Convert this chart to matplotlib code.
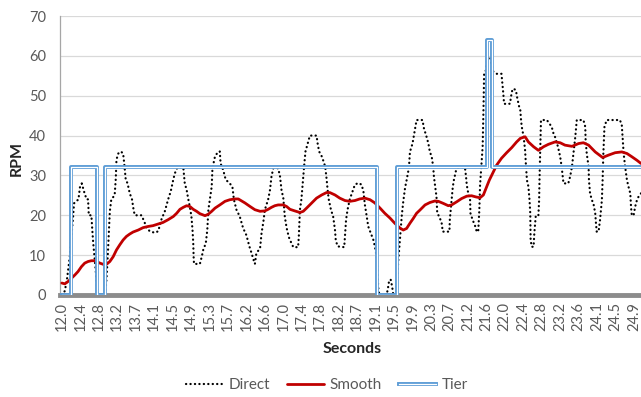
import matplotlib.pyplot as plt
from matplotlib.legend_handler import HandlerTuple

# x = sample number, a tick label every 5 samples
tick_labels = ['12.0', '12.4', '12.8', '13.2', '13.7', '14.1', '14.5', '14.9',
               '15.3', '15.7', '16.2', '16.6', '17.0', '17.4', '17.8', '18.2',
               '18.7', '19.1', '19.5', '19.9', '20.3', '20.7', '21.2', '21.6',
               '22.0', '22.4', '22.8', '23.2', '23.6', '24.1', '24.5', '24.9']

direct_x = [0, 0.8, 1.4, 2.2, 2.6, 3.0, 3.3, 4.5, 4.9, 5.4, 6.0, 6.7, 7.1, 7.3, 8.0,
            8.2, 8.5, 8.8, 9.1, 9.6, 9.9, 11.7, 12.1, 12.5, 13.0, 13.4, 14.3, 14.6,
            14.8, 15.3, 16.0, 16.6, 16.9, 17.3, 17.8, 18.4, 19.0, 19.5, 19.8, 21.6,
            22.5, 22.9, 23.8, 25.2, 26.1, 27.0, 27.9, 28.8, 29.5, 30.2, 30.6,
            31.3, 32.9, 33.3, 33.8, 34.2, 34.7, 35.1, 35.4, 35.6, 35.7, 35.8, 37.4,
            37.9, 38.3, 39.0, 39.4, 39.7, 40.1, 40.6, 40.8, 41.5, 42.4, 42.8, 43.0,
            43.7, 44.4, 45.3, 46.2, 46.6, 47.3, 48.2, 49.1, 50.0, 50.8, 51.4, 51.8,
            52.3, 52.7, 53.7, 54.1, 54.6, 55.0, 55.9, 56.4, 56.8, 57.3, 58.6, 59.1,
            59.5, 60.0, 60.4, 60.9, 61.5, 62.2, 62.7, 64.0, 64.2, 64.5, 64.9, 65.4,
            65.7, 66.0, 66.6, 67.2, 69.0, 69.3, 69.7, 70.4, 71.1, 71.4, 71.7, 72.0,
            72.3, 72.9, 73.5, 74.0, 74.2, 74.7, 76.5, 76.7, 77.0, 77.4, 78.0, 78.9,
            79.4, 80.3, 81.2, 81.7, 82.1, 82.6, 83.0, 83.7, 84.4, 84.8, 85.3, 85.5,
            85.7, 86.0, 88.0, 88.4, 88.7, 89.1, 89.5, 89.8, 90.6, 91.1, 91.6, 92.1,
            92.5, 93.0, 93.4, 93.9, 94.1, 94.3, 95.0, 95.7, 96.1, 97.7, 98.1, 98.8,
            99.3, 99.7, 100.2, 100.6, 100.8, 101.1, 101.5, 101.7, 102.3, 102.9,
            103.2, 105.0, 105.1, 105.6, 105.9, 106.2, 106.8, 107.4, 109.2, 109.5,
            109.7, 110.1, 110.6, 110.7, 111.3, 111.9, 112.4, 112.8, 113.1, 113.3,
            113.7, 114.0, 114.2, 114.4, 114.9, 115.3, 116.0, 116.4, 116.9, 117.8,
            119.1, 119.4, 119.6, 119.8, 120.5, 121.4, 121.9, 122.3, 123.0, 123.4,
            123.9, 124.2, 124.4, 124.6, 125.1, 125.5, 125.7, 126.0, 126.4, 126.7,
            126.9, 126.95, 127.0, 127.3, 127.8, 128.0, 128.4, 129.1, 129.3, 129.4,
            129.6, 129.8, 131.4, 132.7, 133.2, 133.6, 134.4, 135.0, 135.4, 135.6,
            135.9, 137.2, 137.7, 138.2, 138.6, 139.1, 139.5, 141.3, 141.8, 141.9,
            142.2, 142.7, 142.8, 143.1, 143.6, 144.0, 144.5, 144.7, 144.9, 145.4,
            145.8, 146.3, 146.5, 146.7, 147.0, 147.6, 151.2, 151.7, 151.9, 152.2,
            152.6, 153.1, 153.5, 154.0, 154.2, 154.4, 154.9, 155.3, 155.8, 156.2,
            156.9]
direct_rpm = [0, 1, 4, 10, 15, 19, 23, 24, 27, 28, 26, 24, 24, 20, 20,
              17, 13, 10, 7, 1, 0, 0, 4, 11, 21, 24, 25, 29,
              34, 35.5, 36, 35.5, 33, 29, 28, 25.5, 24, 21, 20, 20,
              18, 17, 16, 15.6, 16, 19, 21, 24, 26, 29, 30.5,
              32, 32, 28, 26.4, 24.3, 22, 19.7, 16.3, 13, 9.6, 7.8, 7.8,
              9.6, 11.3, 13, 16.3, 21.4, 23.9, 27.2, 31.8, 34.8, 36, 36, 33,
              31.4, 28.9, 28.2, 27.2, 24, 21.4, 19.7, 16.8, 15, 12.2, 10.5, 9.2,
              7.8, 10.5, 11.7, 15.5, 18.4, 21.4, 24, 26.4, 29.8, 31.8, 31.8, 29.8,
              26.4, 24.3, 19.7, 16.8, 14.5, 13, 12, 12, 14.7, 21.4, 24, 29.8,
              33, 36, 38, 40, 40, 38, 36, 34.8, 33, 31.8, 29.3, 26.4,
              24, 21.4, 19.7, 16.3, 13.8, 12.2, 12, 14.7, 18.9, 21.4, 24, 26.4,
              27.7, 28.1, 27.7, 26, 22.6, 19.7, 17.2, 15.5, 13.8, 12.2, 9.6, 6.3,
              2, 0, 0, 2, 3.8, 3.8, 2, 0, 0, 8, 14, 20,
              23.5, 27, 28.8, 31.3, 33, 35.9, 38, 41.8, 43.9, 43.9, 41.8, 39.7,
              38, 35.9, 34.7, 32.2, 29.7, 27.6, 24.6, 20.5, 19.6, 18,
              15.9, 15.9, 18.8, 23.8, 27, 28.8, 31.3, 32, 32, 29.7,
              27.6, 25.5, 23.8, 20.5, 18.8, 17.5, 15.9, 15.9, 21.3, 27.6,
              33, 37.2, 45.5, 55.5, 56.4, 59.7, 59.7, 58, 56, 55.5,
              55.5, 52.6, 50.5, 48, 47.9, 48, 51, 51.8, 51.4, 49.3,
              47.2, 46.4, 43.9, 42.2, 39.7, 36.3, 33, 28.8, 27.2, 23.8,
              20.5, 17, 13.8, 12.1, 12.1, 15.5, 20, 20, 23.8, 28.8,
              36.3, 43.9, 43.9, 42.2, 40.5, 39.7, 37.2, 34.7, 32.2, 30.5,
              28, 28, 29.7, 32.2, 35.5, 39.7, 43.9, 43.9, 42.2, 38.8,
              35.5, 32.2, 28.8, 25.5, 23.8, 23, 20.5, 18, 15.9, 15.9,
              18.8, 23.8, 28.8, 35.5, 42.2, 43.9, 43.9, 42.6, 39.7, 35.5,
              32.2, 28.8, 27.2, 25.5, 22.1, 20, 20, 22.1, 23.8, 24.6,
              25.5]

smooth_x = [0, 0.8, 1.7, 2.6, 3.5, 4.4, 5.3, 6.2, 7.1, 8.0, 8.8, 9.4, 10.3, 11.2, 12.1,
            13.0, 13.9, 14.8, 15.7, 16.6, 17.5, 18.4, 19.3, 20.7, 22.0, 23.4, 24.7,
            26.1, 27.4, 28.8, 30.2, 31.1, 32.0, 32.9, 33.8, 34.7, 35.6, 36.5, 37.4,
            38.8, 39.7, 40.6, 41.5, 42.8, 44.2, 45.5, 46.9, 47.8, 48.7, 49.6, 51.0,
            52.3, 53.7, 55.0, 55.9, 56.8, 57.7, 58.6, 60.0, 60.9, 61.8, 63.1, 64.5,
            65.4, 66.3, 67.7, 69.0, 70.4, 71.7, 72.6, 74.0, 75.3, 76.7, 78.0, 79.4,
            80.7, 82.1, 83.5, 84.8, 86.2, 87.5, 88.9, 90.2, 91.6, 92.5, 93.4, 94.3,
            95.2, 96.1, 97.0, 98.4, 99.7, 101.1, 102.0, 103.3, 104.7, 105.6, 107.0,
            108.3, 109.7, 111.0, 112.2, 113.3, 114.2, 114.9, 115.8, 116.9, 117.8,
            119.1, 120.5, 121.9, 123.2, 124.2, 125.5, 126.4, 127.8, 129.1, 130.5,
            131.8, 133.6, 135.0, 136.3, 138.2, 140.0, 141.3, 142.7, 144.5, 146.5,
            148.1, 149.9, 151.7, 153.1, 154.4, 155.8, 156.9]
smooth_rpm = [3.0, 2.8, 3.4, 4.2, 5.0, 5.9, 7.1, 8.0, 8.4, 8.6, 8.6, 8.4, 8.0, 7.7, 7.7,
              8.4, 9.6, 11.3, 12.6, 13.8, 14.7, 15.3, 15.8, 16.3, 16.9, 17.2, 17.4,
              17.8, 18.2, 18.9, 19.7, 20.5, 21.5, 22.0, 22.4, 22.2, 21.5, 21.0, 20.4,
              19.9, 20.3, 21.0, 21.8, 22.6, 23.5, 23.9, 24.1, 24.1, 23.6, 23.1, 22.2,
              21.4, 21.0, 21.1, 21.5, 22.0, 22.4, 22.6, 22.6, 22.2, 21.5, 21.1, 20.7,
              21.0, 21.8, 23.1, 24.3, 25.1, 25.7, 25.7, 25.1, 24.3, 23.7, 23.5, 23.7,
              24.1, 24.3, 23.9, 23.1, 21.8, 20.5, 19.3, 18.0, 16.8, 16.3, 16.7, 18.0,
              19.2, 20.5, 21.3, 22.6, 23.2, 23.6, 23.5, 23.0, 22.4, 22.6, 23.4,
              24.2, 24.8, 24.9, 24.6, 24.4, 25.1, 26.7, 28.8, 30.9, 32.6,
              34.3, 35.7, 37.0, 38.4, 39.3, 39.7, 38.4, 37.2, 36.3, 37.2,
              37.8, 38.4, 38.2, 37.6, 37.3, 38.0, 38.2, 37.6, 35.9, 34.5,
              35.1, 35.7, 35.9, 35.5, 34.7, 33.8, 33.0]

# tier level changes (step after each point)
tier_x = [0, 2.4, 9.4, 11.8, 85.4, 90.7, 115.2, 116.5, 157]
tier_rpm = [0, 32, 0, 32, 0, 32, 64, 32, 32]

plt.rcParams['font.family'] = ['Lato', 'DejaVu Sans']
grey = '#595959'

fig = plt.figure(figsize=(6.41, 3.97), dpi=100)
ax = fig.add_axes([60/641, 102/397, 581/641, 279/397])

ax.plot(direct_x, direct_rpm, color='black', lw=1.6, ls=(0, (0.1, 1.9)),
        dash_capstyle='round', label='Direct', zorder=3)
ax.plot(smooth_x, smooth_rpm, color='#C00000', lw=2.0, label='Smooth', zorder=4,
        solid_capstyle='round')
t1, = ax.plot(tier_x, tier_rpm, drawstyle='steps-post', color='#5B9BD5', lw=2.8, zorder=5)
t2, = ax.plot(tier_x, tier_rpm, drawstyle='steps-post', color='white', lw=0.9, zorder=6)

ax.set_xlim(-0.5, 156.9)
ax.set_ylim(0, 70)
ax.set_yticks(range(0, 71, 10))
ax.set_xticks(range(0, 156, 5))
ax.set_xticklabels(tick_labels, rotation=90)
ax.tick_params(axis='both', length=0, labelsize=10.5, colors=grey)
ax.tick_params(axis='y', pad=10)
ax.tick_params(axis='x', pad=5)
ax.grid(axis='y', color='#D9D9D9', lw=0.9)
ax.set_axisbelow(True)

for s in ['top', 'right']:
    ax.spines[s].set_visible(False)
ax.spines['left'].set_color('#A6A6A6')
ax.spines['left'].set_linewidth(0.9)
ax.spines['bottom'].set_color('#8C8C8C')
ax.spines['bottom'].set_linewidth(3.5)

ax.set_ylabel('RPM', fontsize=11.5, fontweight='bold', color='#262626')
ax.yaxis.set_label_coords(-0.062, 0.49)
ax.set_xlabel('Seconds', fontsize=11.5, fontweight='bold', color='#262626')
ax.xaxis.set_label_coords(0.503, -0.168)

handles = [ax.lines[0], ax.lines[1], (t1, t2)]
fig.legend(handles, ['Direct', 'Smooth', 'Tier'], loc='center',
           bbox_to_anchor=(327/641, 1 - 385/397), ncol=3, frameon=False,
           fontsize=11, labelcolor=grey, handlelength=2.4, handletextpad=0.4,
           columnspacing=1.1, handler_map={tuple: HandlerTuple(ndivide=1)})

fig.savefig('out.png', dpi=100)
